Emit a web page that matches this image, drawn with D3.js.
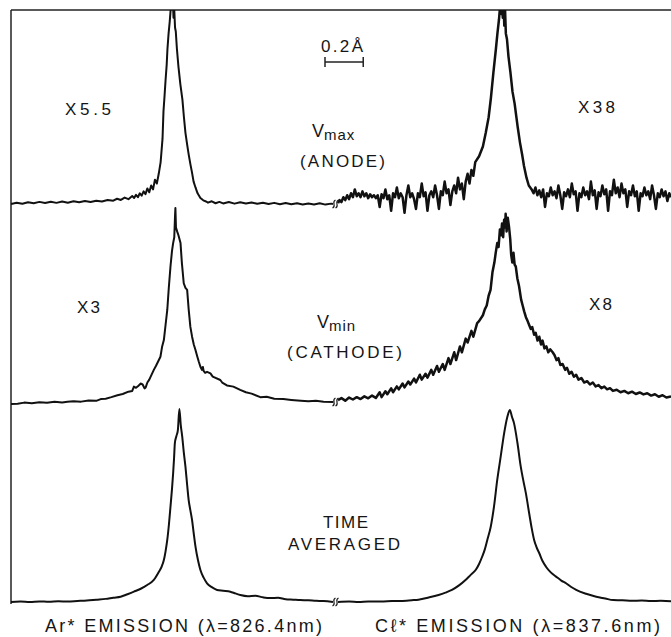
<!DOCTYPE html>
<html>
<head>
<meta charset="utf-8">
<script src="https://cdn.jsdelivr.net/npm/d3@7/dist/d3.min.js"></script>
<style>
  body { margin: 0; background: #fff; }
  text { font-family: "Liberation Sans", "DejaVu Sans", sans-serif; fill: #151515; }
</style>
</head>
<body>
<div id="chart"></div>
<script>
// wavelength offset (angstrom) shown in each half of the figure
const arOffsetDomain = [-0.85, 0.85]
const clOffsetDomain = [-0.858, 0.884]

// [offset in angstrom, relative intensity (0 = baseline, 100 = full scale)]
const arVmax = [[-0.85,0.5],[-0.82,1.2],[-0.79,0.6],[-0.76,1.4],[-0.73,0.9],[-0.70,1.6],[-0.67,1.0],[-0.64,1.7],[-0.61,1.1],[-0.58,1.8],[-0.55,1.2],[-0.52,1.9],[-0.49,1.4],[-0.46,2.0],[-0.43,1.5],[-0.40,2.2],[-0.37,1.8],[-0.34,2.6],[-0.31,2.2],[-0.29,3.2],[-0.27,2.6],[-0.25,3.8],[-0.23,3.0],[-0.21,4.6],[-0.20,3.6],[-0.19,5.2],[-0.18,4.0],[-0.17,6.0],[-0.16,4.8],[-0.15,7.0],[-0.14,5.6],[-0.13,8.5],[-0.12,6.5],[-0.11,10],[-0.10,8],[-0.09,13],[-0.08,11],[-0.07,16],[-0.06,22],[-0.05,34],[-0.045,48],[-0.04,55],[-0.034,64],[-0.028,72],[-0.024,80],[-0.018,88],[-0.012,94],[-0.008,99],[-0.004,104],[0.0,101],[0.004,106],[0.008,96],[0.012,100],[0.016,91],[0.02,89],[0.026,80],[0.034,71],[0.044,62],[0.055,54],[0.063,45],[0.071,37],[0.08,31],[0.088,26],[0.097,21],[0.105,17],[0.114,12],[0.124,9],[0.135,6],[0.15,3.6],[0.165,2.4],[0.18,1.8],[0.19,1.2],[0.21,1.9],[0.23,0.9],[0.25,1.6],[0.27,0.8],[0.30,1.5],[0.33,0.7],[0.36,1.4],[0.39,0.8],[0.42,1.3],[0.45,0.6],[0.48,1.2],[0.51,0.5],[0.54,1.1],[0.57,0.4],[0.60,1.0],[0.63,0.4],[0.66,0.9],[0.69,0.3],[0.72,0.8],[0.75,0.3],[0.78,0.9],[0.81,0.2],[0.84,0.7],[0.85,0.5]]

const clVmax = [[-0.858,1],[-0.85,2.5],[-0.84,1.5],[-0.83,4],[-0.82,2.5],[-0.81,5],[-0.80,3],[-0.79,6],[-0.78,4],[-0.77,8],[-0.76,4.5],[-0.75,6],[-0.74,4],[-0.73,7],[-0.72,4.5],[-0.71,6],[-0.70,3.5],[-0.69,5.5],[-0.68,4],[-0.67,5],[-0.66,3.5],[-0.65,5],[-0.64,-1],[-0.63,5.5],[-0.62,3.5],[-0.61,8],[-0.60,3],[-0.59,5],[-0.58,-3],[-0.57,6],[-0.56,4],[-0.55,9],[-0.54,3.5],[-0.53,6],[-0.52,4],[-0.51,-4],[-0.50,5],[-0.49,10],[-0.48,4],[-0.47,6],[-0.46,3],[-0.45,-2],[-0.44,6],[-0.43,4],[-0.42,11],[-0.41,4.5],[-0.40,6.5],[-0.39,-3],[-0.38,5],[-0.37,7],[-0.36,4],[-0.35,10],[-0.34,5],[-0.33,-2],[-0.32,7],[-0.31,5],[-0.30,12],[-0.29,6],[-0.28,8],[-0.27,0],[-0.26,7],[-0.25,10],[-0.24,6],[-0.23,14],[-0.22,8],[-0.21,11],[-0.20,3],[-0.19,12],[-0.18,16],[-0.17,11],[-0.16,18],[-0.15,15],[-0.14,22],[-0.12,25],[-0.10,30],[-0.085,37],[-0.07,45],[-0.058,55],[-0.045,68],[-0.032,80],[-0.024,88],[-0.016,95],[-0.01,102],[-0.004,98],[0.0,104],[0.004,96],[0.008,103],[0.012,92],[0.016,100],[0.02,88],[0.026,85],[0.034,76],[0.044,68],[0.055,58],[0.066,52],[0.074,46],[0.082,40],[0.094,32],[0.105,26],[0.115,20],[0.128,14],[0.14,10],[0.155,8],[0.165,6],[0.175,9],[0.185,5],[0.195,7.5],[0.205,4],[0.215,8],[0.225,-1],[0.235,6],[0.245,4.5],[0.255,9],[0.265,5],[0.275,7],[0.285,3.5],[0.295,10],[0.305,5],[0.315,-2],[0.325,6.5],[0.335,4.5],[0.345,8],[0.355,4],[0.365,11],[0.375,5.5],[0.385,7],[0.395,-3],[0.405,6],[0.415,4],[0.425,9],[0.435,5],[0.445,7],[0.455,3],[0.465,12],[0.475,5],[0.485,7.5],[0.495,-2],[0.505,6.5],[0.515,4.5],[0.525,10],[0.535,5.5],[0.545,8],[0.555,-3],[0.565,7],[0.575,5],[0.585,13],[0.595,6],[0.605,9],[0.615,4],[0.625,11],[0.635,6],[0.645,8],[0.655,-1],[0.665,7],[0.675,5],[0.685,10],[0.695,4.5],[0.705,7],[0.715,-3],[0.725,6],[0.735,4.5],[0.745,9],[0.755,5],[0.765,7],[0.775,3],[0.785,10],[0.795,5],[0.805,-2],[0.815,6],[0.825,4],[0.835,8],[0.845,4.5],[0.855,7],[0.865,2],[0.875,6],[0.884,4]]

const arVmin = [[-0.85,-0.5],[-0.815,-0.4],[-0.78,0.2],[-0.74,-0.1],[-0.70,0.4],[-0.66,0.1],[-0.62,0.6],[-0.58,0.3],[-0.552,0.6],[-0.52,0.9],[-0.48,0.7],[-0.44,1.3],[-0.40,1.1],[-0.376,2.0],[-0.35,2.2],[-0.32,3.0],[-0.288,4.0],[-0.26,4.6],[-0.23,5.8],[-0.21,6.2],[-0.201,8.4],[-0.19,7.8],[-0.18,8.6],[-0.17,9.5],[-0.166,10],[-0.155,9.5],[-0.145,7.5],[-0.139,8.0],[-0.13,10.5],[-0.12,12],[-0.096,17],[-0.085,19],[-0.061,23.7],[-0.052,29],[-0.043,32.3],[-0.034,40],[-0.025,47.7],[-0.017,59],[-0.008,70],[0.0,78],[0.006,82],[0.012,85],[0.016,96],[0.018,100],[0.021,90],[0.027,88],[0.034,86],[0.045,82],[0.052,72],[0.062,61.4],[0.071,59],[0.08,58],[0.088,48],[0.097,39],[0.106,34],[0.115,30],[0.124,27.2],[0.133,24],[0.142,21],[0.15,18.6],[0.158,17],[0.163,18.5],[0.167,16.5],[0.175,15.5],[0.185,16],[0.203,15.2],[0.215,13.5],[0.255,11.8],[0.265,10.5],[0.29,9],[0.324,8.4],[0.36,6.7],[0.39,5.5],[0.42,4.8],[0.466,3.0],[0.50,3.2],[0.54,2.2],[0.588,2.0],[0.63,1.6],[0.68,1.2],[0.72,0.9],[0.76,1.1],[0.80,0.6],[0.852,0.5]]

const clVmin = [[-0.858,1.5],[-0.84,2.5],[-0.82,1.2],[-0.80,2.8],[-0.78,1.8],[-0.76,3.0],[-0.74,2.0],[-0.72,3.4],[-0.70,2.4],[-0.68,3.8],[-0.66,2.6],[-0.64,5.5],[-0.63,3.0],[-0.61,6.0],[-0.60,4.5],[-0.58,7.5],[-0.57,5.5],[-0.55,8.5],[-0.54,7.0],[-0.52,10],[-0.51,8],[-0.49,11],[-0.48,9.5],[-0.46,12.5],[-0.45,10.5],[-0.43,14.5],[-0.42,12],[-0.40,15],[-0.39,13],[-0.37,17],[-0.36,14.5],[-0.34,19],[-0.33,16],[-0.31,20],[-0.30,17],[-0.28,23],[-0.27,20],[-0.25,26],[-0.24,22],[-0.22,29],[-0.21,26],[-0.19,33],[-0.18,31],[-0.16,37],[-0.15,34],[-0.13,41],[-0.12,42],[-0.10,45],[-0.09,48],[-0.08,50],[-0.07,55],[-0.06,58],[-0.05,67],[-0.04,72],[-0.033,77],[-0.025,82],[-0.018,80],[-0.011,89],[-0.005,86],[0.0,92],[0.006,85],[0.011,94],[0.016,90],[0.019,97],[0.024,88],[0.03,95],[0.037,90],[0.043,84],[0.048,76],[0.054,72],[0.06,77],[0.066,71],[0.072,70],[0.08,64],[0.089,60],[0.1,53],[0.108,50],[0.116,47],[0.125,44],[0.134,42],[0.142,40],[0.15,38],[0.158,39],[0.168,35],[0.176,36],[0.186,32],[0.195,34],[0.204,30],[0.212,32],[0.222,28],[0.232,29],[0.242,26],[0.252,27.5],[0.265,26],[0.275,24.5],[0.285,22],[0.295,23],[0.305,19.5],[0.317,20],[0.33,17],[0.34,18],[0.352,15],[0.364,16],[0.376,13.5],[0.388,14.5],[0.40,12],[0.415,12.8],[0.43,10.5],[0.445,11.2],[0.46,9.5],[0.475,10.5],[0.49,8.5],[0.505,9.2],[0.52,7.6],[0.535,8.4],[0.55,7.0],[0.565,7.6],[0.58,6.2],[0.6,6.8],[0.62,5.5],[0.64,6.2],[0.66,5.0],[0.68,5.8],[0.70,4.6],[0.72,5.4],[0.74,4.4],[0.76,5.0],[0.78,3.8],[0.80,4.5],[0.82,3.2],[0.84,4.0],[0.86,2.8],[0.884,3.4]]

const arAvg = [[-0.85,0],[-0.80,0.2],[-0.75,0],[-0.70,0.3],[-0.65,0.1],[-0.60,0.4],[-0.55,0.2],[-0.50,0.5],[-0.45,0.8],[-0.40,1.2],[-0.35,1.6],[-0.31,2.2],[-0.271,2.7],[-0.235,4.0],[-0.201,5.3],[-0.165,6.8],[-0.131,8.7],[-0.096,11.3],[-0.069,15.5],[-0.055,18],[-0.043,21.5],[-0.034,26],[-0.025,31.8],[-0.016,40],[-0.008,48.9],[0.0,58],[0.006,66],[0.011,74],[0.015,81.4],[0.023,85],[0.031,88.2],[0.039,99],[0.046,91],[0.054,84.8],[0.062,77],[0.071,69.4],[0.08,60],[0.088,52.3],[0.097,47],[0.106,42],[0.115,35],[0.124,28.4],[0.137,21.5],[0.15,16.4],[0.167,12.5],[0.185,9.6],[0.21,7.6],[0.238,6.2],[0.27,5.8],[0.308,5.3],[0.335,4.4],[0.361,3.6],[0.40,3.0],[0.44,3.2],[0.48,2.4],[0.518,2.0],[0.56,2.2],[0.60,1.4],[0.64,1.2],[0.676,1.0],[0.72,0.9],[0.76,0.6],[0.80,0.5],[0.85,0]]

const clAvg = [[-0.858,0],[-0.80,0.2],[-0.75,0],[-0.70,0.3],[-0.65,0.2],[-0.60,0.4],[-0.55,0.5],[-0.50,0.7],[-0.472,0.9],[-0.437,1.2],[-0.384,2.3],[-0.332,3.6],[-0.296,4.8],[-0.262,6.2],[-0.225,8.5],[-0.191,11.3],[-0.165,13.8],[-0.138,16.4],[-0.12,19.5],[-0.104,23.2],[-0.09,27],[-0.077,31.8],[-0.059,38.6],[-0.042,48.9],[-0.025,62.6],[-0.007,74.5],[0.011,86.5],[0.028,95],[0.041,98.5],[0.052,95],[0.063,91.6],[0.081,81.4],[0.098,69.4],[0.112,62],[0.125,55.7],[0.142,45.5],[0.155,38],[0.168,31.8],[0.181,28],[0.195,25],[0.212,21],[0.23,18.1],[0.255,15.2],[0.283,13],[0.31,11],[0.335,9.6],[0.36,7.8],[0.388,6.2],[0.44,4.2],[0.493,2.7],[0.54,1.8],[0.581,1.0],[0.63,0.9],[0.68,0.6],[0.73,0.8],[0.78,0.5],[0.83,0.6],[0.884,0.4]]

// labels
const gainLabels = [["X5.5", "X38"], ["X3", "X8"]]
const conditionLabels = [["V", "max", "(ANODE)"], ["V", "min", "(CATHODE)"], ["TIME", "", "AVERAGED"]]
const lineLabels = ["Ar* EMISSION (\u03bb=826.4nm)", "C\u2113* EMISSION (\u03bb=837.6nm)"]
const scaleBarLength = 0.2  // angstrom
const scaleBarLabel = "0.2\u00c5"

const width = 671
const height = 637
const frame = { top: 10, left: 11 }
const rowBase = [205, 403, 602]
const rowHeight = 195

const svg = d3.select("#chart").append("svg")
    .attr("width", width)
    .attr("height", height)

svg.append("rect").attr("width", width).attr("height", height).attr("fill", "#fff")

const xLeft = d3.scaleLinear().domain(arOffsetDomain).range([frame.left, 333])
const xRight = d3.scaleLinear().domain(clOffsetDomain).range([338, width])

svg.append("clipPath").attr("id", "plotclip")
  .append("rect")
    .attr("x", 0).attr("y", frame.top)
    .attr("width", width).attr("height", height - frame.top)

// frame: top and left rules
svg.append("line")
    .attr("x1", frame.left).attr("x2", width)
    .attr("y1", frame.top).attr("y2", frame.top)
    .attr("stroke", "#222").attr("stroke-width", 1.5)
svg.append("line")
    .attr("x1", frame.left).attr("x2", frame.left)
    .attr("y1", frame.top).attr("y2", rowBase[2] + 2)
    .attr("stroke", "#222").attr("stroke-width", 1.5)

const rows = [
  { ar: arVmax, cl: clVmax },
  { ar: arVmin, cl: clVmin },
  { ar: arAvg, cl: clAvg }
]

const traces = svg.append("g").attr("clip-path", "url(#plotclip)")

rows.forEach((row, i) => {
  const y = d3.scaleLinear().domain([0, 100]).range([rowBase[i], rowBase[i] - rowHeight])
  const smooth = i === 2
  const lineL = d3.line().x(d => xLeft(d[0])).y(d => y(d[1]))
    .curve(smooth ? d3.curveMonotoneX : d3.curveLinear)
  const lineR = d3.line().x(d => xRight(d[0])).y(d => y(d[1]))
    .curve(smooth ? d3.curveMonotoneX : d3.curveLinear)

  traces.append("path")
      .attr("d", lineL(row.ar))
      .attr("fill", "none")
      .attr("stroke", "#111")
      .attr("stroke-width", 2)
      .attr("stroke-linejoin", "round")
  traces.append("path")
      .attr("d", lineR(row.cl))
      .attr("fill", "none")
      .attr("stroke", "#111")
      .attr("stroke-width", i === 2 ? 2 : 2.5)
      .attr("stroke-linejoin", "round")

  // axis break squiggles between the two lines
  const bx = xLeft(arOffsetDomain[1])
  const by = y(row.ar[row.ar.length - 1][1])
  ;[1, 4].forEach(dx => {
    const x0 = bx + dx
    svg.append("path")
        .attr("d", `M${x0 - 1.5},${by + 4} C${x0 + 3},${by + 2} ${x0 - 3},${by - 2} ${x0 + 1.5},${by - 4}`)
        .attr("fill", "none")
        .attr("stroke", "#222")
        .attr("stroke-width", 1.2)
  })
})

// gain factors
const gainPos = [[[65, 115, 46], [578, 113, 37]], [[77, 313, 23], [589, 310, 23]]]
gainPos.forEach((pair, i) => {
  pair.forEach((p, j) => {
    svg.append("text")
        .attr("x", p[0]).attr("y", p[1])
        .attr("font-size", 17)
        .attr("textLength", p[2])
        .attr("lengthAdjust", "spacing")
        .text(gainLabels[i][j])
  })
})

// condition labels in the middle
const condPos = [[312, 137, 300, 167, 85], [317, 328, 287, 358, 115]]
condPos.forEach((p, i) => {
  const t = svg.append("text").attr("x", p[0]).attr("y", p[1]).attr("font-size", 18)
  t.append("tspan").text(conditionLabels[i][0])
  t.append("tspan").attr("font-size", 15).attr("dy", 3).attr("letter-spacing", 1)
    .text(conditionLabels[i][1])
  svg.append("text")
      .attr("x", p[2]).attr("y", p[3])
      .attr("font-size", 17)
      .attr("textLength", p[4])
      .attr("lengthAdjust", "spacing")
      .text(conditionLabels[i][2])
})
svg.append("text").attr("x", 323).attr("y", 528).attr("font-size", 17)
    .attr("textLength", 45).attr("lengthAdjust", "spacing")
    .text(conditionLabels[2][0])
svg.append("text").attr("x", 288).attr("y", 550).attr("font-size", 17)
    .attr("textLength", 112).attr("lengthAdjust", "spacing")
    .text(conditionLabels[2][2])

// wavelength scale bar
const barX0 = 325
const barX1 = barX0 + (xRight(scaleBarLength) - xRight(0))
const barY = 62
svg.append("text").attr("x", 321).attr("y", 52).attr("font-size", 17)
    .attr("textLength", 42).attr("lengthAdjust", "spacing")
    .text(scaleBarLabel)
svg.append("line").attr("x1", barX0).attr("x2", barX1).attr("y1", barY).attr("y2", barY)
    .attr("stroke", "#222").attr("stroke-width", 1.3)
;[barX0, barX1].forEach(bx => {
  svg.append("line").attr("x1", bx).attr("x2", bx).attr("y1", barY - 5).attr("y2", barY + 5)
      .attr("stroke", "#222").attr("stroke-width", 1.5)
})

// line identification below each half
const bottomPos = [[45, 277], [375, 285]]
bottomPos.forEach((p, i) => {
  svg.append("text")
      .attr("x", p[0]).attr("y", 632)
      .attr("font-size", 18)
      .attr("textLength", p[1])
      .attr("lengthAdjust", "spacing")
      .text(lineLabels[i])
})
</script>
</body>
</html>
